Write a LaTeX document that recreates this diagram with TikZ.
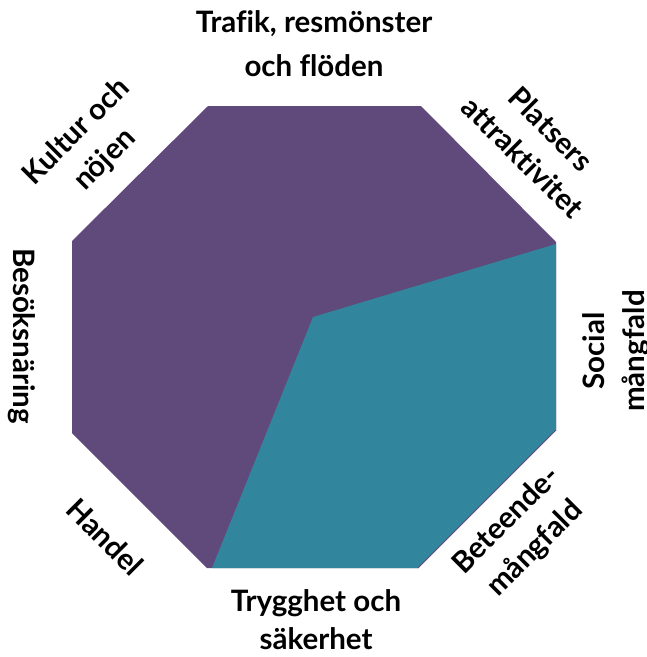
\documentclass[tikz,border=0pt]{standalone}
\usepackage{fontspec}
\setmainfont{Lato}[Ligatures=CommonOff]
\definecolor{octpurple}{HTML}{604A7B}
\definecolor{octteal}{HTML}{31859C}
\tikzset{
  lbl/.style={font=\bfseries\fontsize{29.5}{40}\selectfont, align=center, inner sep=0pt, text=black},
}
\begin{document}
\begin{tikzpicture}[x=1pt,y=-1pt]
\useasboundingbox (0,0) rectangle (647,657);
% octagon
\coordinate (v1) at (208,106);
\coordinate (v2) at (421,106);
\coordinate (v3) at (556,242);
\coordinate (v4) at (556,430);
\coordinate (v5) at (418,568);
\coordinate (v6) at (207,568);
\coordinate (v7) at (72,433);
\coordinate (v8) at (72,241);
\coordinate (c) at (313,317);
\coordinate (t1) at (556,244);
\coordinate (t2) at (212,568);
\fill[octpurple] (v1) -- (v2) -- (v3) -- (v4) -- (v5) -- (v6) -- (v7) -- (v8) -- cycle;
\fill[octteal] (t1) -- (c) -- (t2) -- (v5) -- (v4) -- cycle;
\draw[octpurple, line width=0.8pt] (v4) -- (v5);
% labels
\node[lbl, font=\bfseries\fontsize{29.5}{44}\selectfont] (trafik) at (314,44) {Trafik, resmönster\\och flöden};
\node[lbl, rotate=45] (kultur) at (91,146) {Kultur och\\nöjen};
\node[lbl, rotate=-45] (plats) at (537,143) {Platsers\\attraktivitet};
\node[lbl, rotate=90] (social) at (616,351) {Social\\mångfald};
\node[lbl, rotate=-90] (besok) at (22,336) {Besöksnäring};
\node[lbl, rotate=-45] (handel) at (105,537) {Handel};
\node[lbl, font=\bfseries\fontsize{29.5}{38}\selectfont] (trygg) at (316,620) {Trygghet och\\säkerhet};
\node[lbl, rotate=45] (beteende) at (521,535) {Beteende-\\mångfald};
\end{tikzpicture}
\end{document}
